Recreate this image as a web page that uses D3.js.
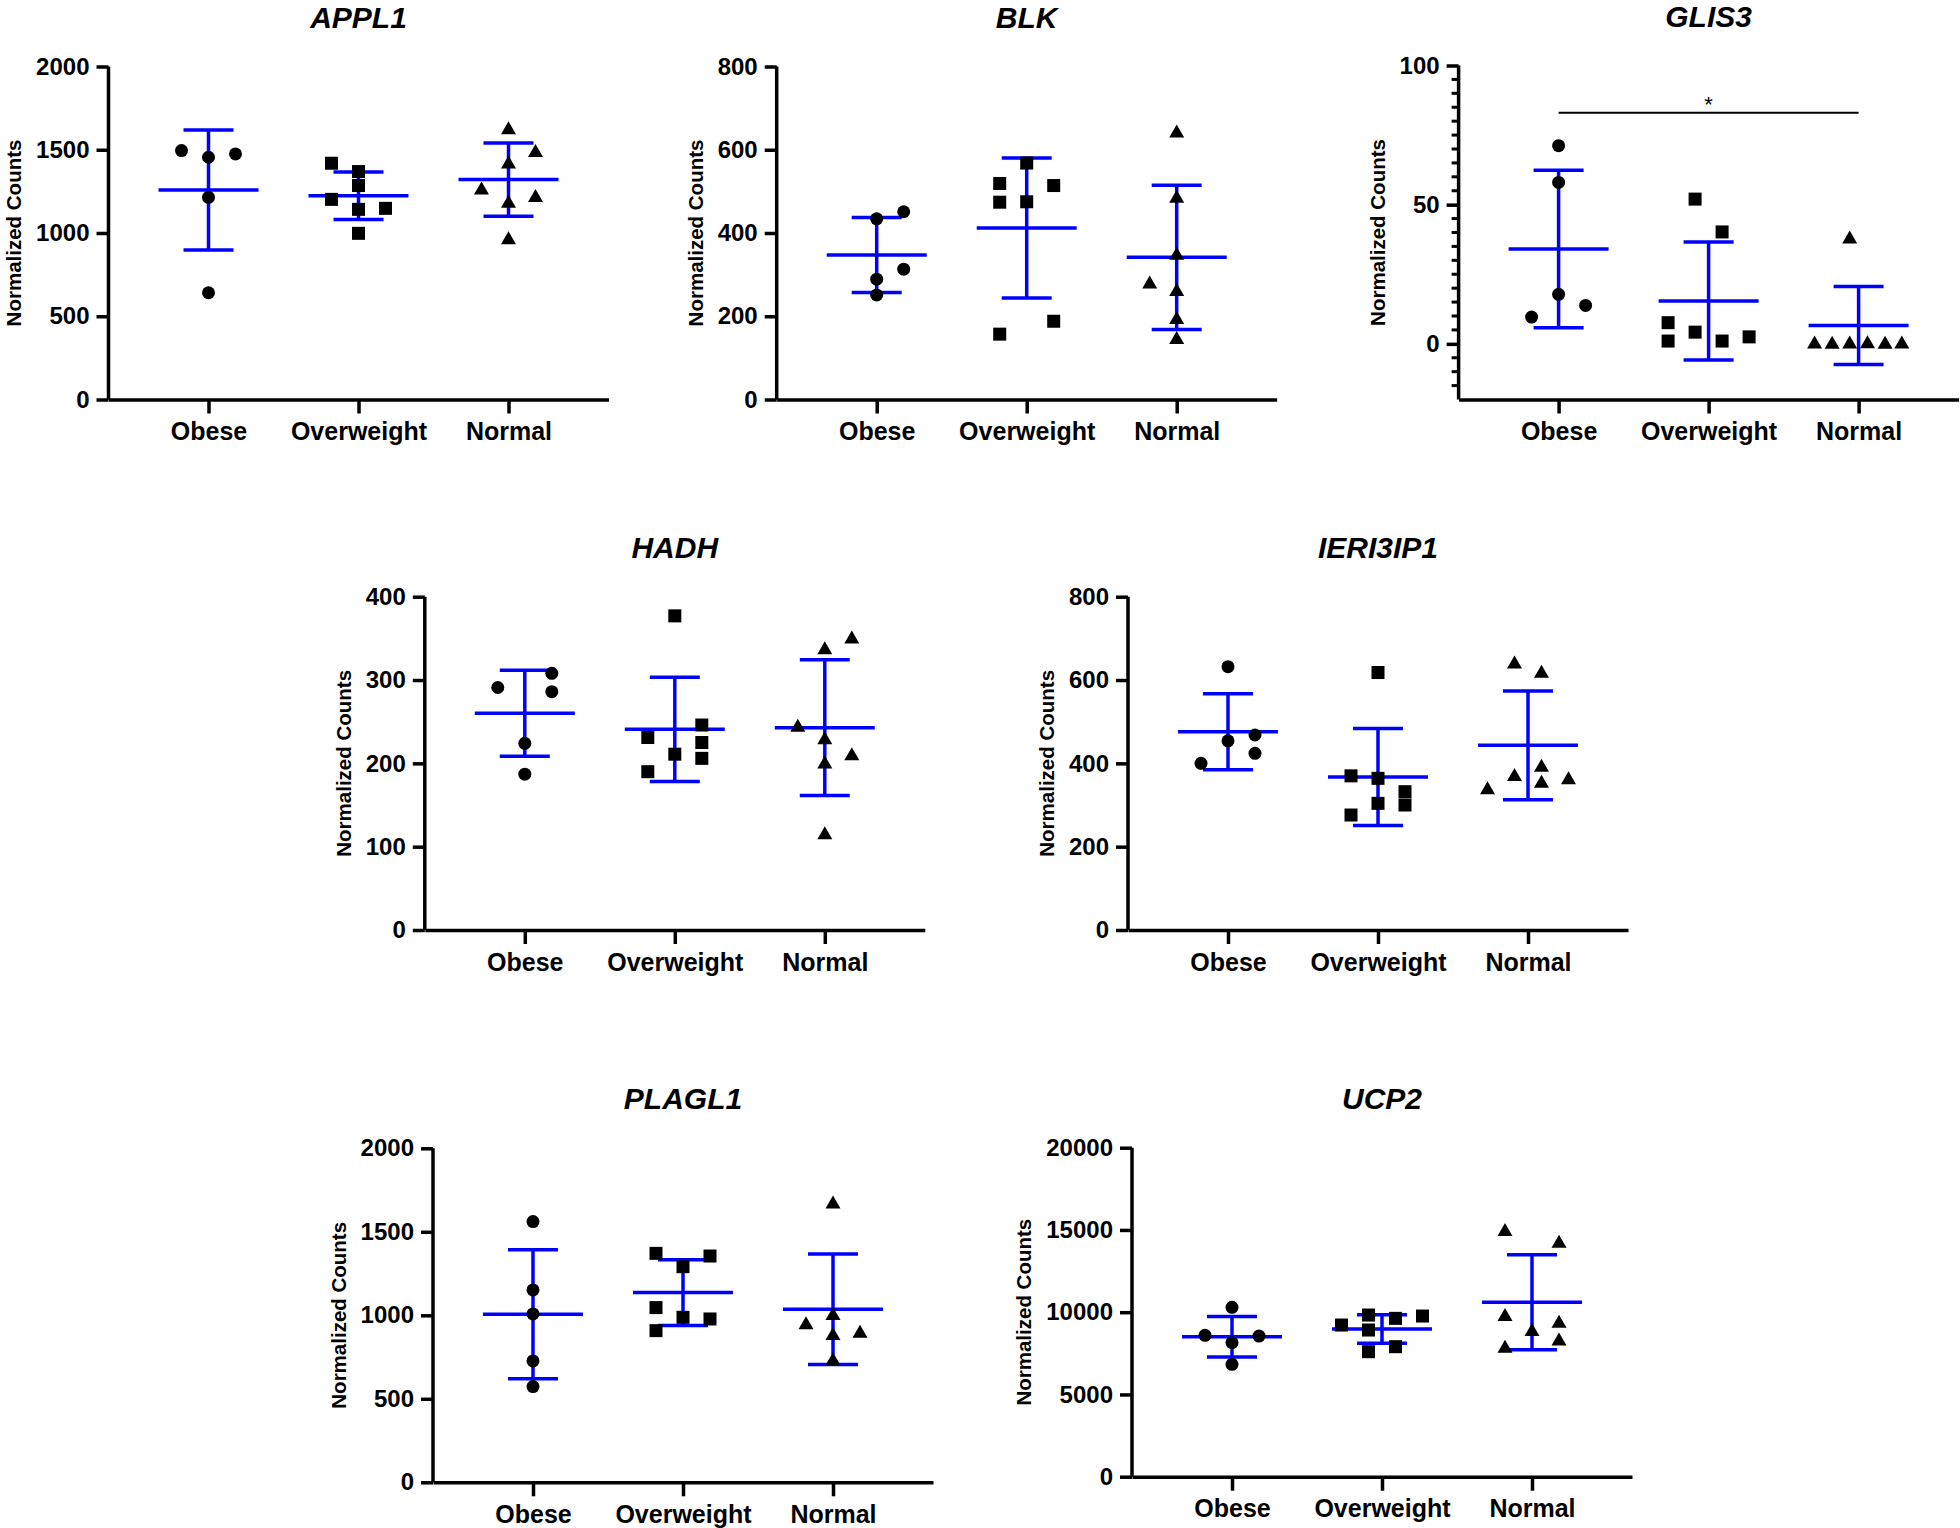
<!DOCTYPE html>
<html>
<head>
<meta charset="utf-8">
<script src="https://cdn.jsdelivr.net/npm/d3@7"></script>
<style>
  body { margin: 0; background: #fff; }
  svg text { font-family: Arial, "Liberation Sans", sans-serif; }
</style>
</head>
<body>
<svg id="fig"></svg>
<script>
var groups = ["Obese", "Overweight", "Normal"];

// APPL1
var appl1Values = [[1495, 1455, 1475, 1214, 641], [1419, 1369, 1285, 1202, 1142, 1148, 998], [1629, 1493, 1423, 1268, 1222, 1188, 968]];
var appl1Lanes = [[-1, 0, 1, 0, 0], [-1, 0, 0, -1, 0, 1, 0], [0, 1, 0, -1, 1, 0, 0]];
var appl1Mean = [1258, 1224, 1321];
var appl1Sd = [360, 143, 220];
var appl1Ticks = [0, 500, 1000, 1500, 2000];

// BLK
var blkValues = [[434, 451, 313, 289, 251], [568, 519, 514, 474, 475, 188, 157], [644, 487, 350, 281, 263, 196, 148]];
var blkLanes = [[0, 1, 1, 0, 0], [0, -1, 1, -1, 0, 1, -1], [0, 0, 0, -1, 0, 0, 0]];
var blkMean = [347, 412, 341.5];
var blkSd = [90, 168, 173.5];
var blkTicks = [0, 200, 400, 600, 800];

// GLIS3
var glis3Values = [[71.2, 58.0, 17.8, 13.8, 9.6], [52.0, 40.2, 7.6, 4.2, 2.5, 1.0, 1.0], [38.2, 0.5, 0.4, 0.5, 0.6, 0.4, 0.5]];
var glis3Lanes = [[0, 0, 0, 1, -1], [-0.5, 0.5, -1.5, -0.5, 1.5, -1.5, 0.5], [-0.33, -1.63, -0.98, -0.33, 0.33, 0.98, 1.6]];
var glis3Mean = [34.1, 15.4, 6.6];
var glis3Sd = [28.3, 21.2, 14];
var glis3Ticks = [0, 50, 100];
var glis3Minor = [-15, -10, -5, 5, 10, 15, 20, 25, 30, 35, 40, 45, 55, 60, 65, 70, 75, 80, 85, 90, 95];
var glis3Sig = {from: "Obese", to: "Normal", value: 83, label: "*"};

// HADH
var hadhValues = [[308, 291, 286, 224, 187], [377, 246, 231, 225, 211, 206, 190], [351, 338, 245, 230, 211, 201, 116]];
var hadhLanes = [[1, -1, 1, 0, 0], [0, 1, -1, 1, 0, 1, -1], [1, 0, -1, 0, 1, 0, 0]];
var hadhMean = [260, 240.8, 242.8];
var hadhSd = [51.6, 62.6, 81.4];
var hadhTicks = [0, 100, 200, 300, 400];

// IERI3IP1
var ieri3ip1Values = [[632, 468, 454, 424, 400], [618, 370, 364, 332, 304, 300, 276], [642, 620, 394, 372, 356, 364, 340]];
var ieri3ip1Lanes = [[0, 1, 0, 1, -1], [0, -1, 0, 1, 0, 1, -1], [-0.5, 0.5, 0.5, -0.5, 0.5, 1.5, -1.5]];
var ieri3ip1Mean = [476, 367.2, 443.2];
var ieri3ip1Sd = [91.2, 116.4, 130.4];
var ieri3ip1Ticks = [0, 200, 400, 600, 800];

// PLAGL1
var plagl1Values = [[1561, 1152, 1008, 727, 573], [1371, 1355, 1291, 1046, 988, 978, 908], [1675, 1008, 952, 902, 888, 737]];
var plagl1Lanes = [[0, 0, 0, 0, 0], [-1, 1, 0, -1, 0, 1, -1], [0, 0, -1, 1, 0, 0]];
var plagl1Mean = [1006, 1136, 1036];
var plagl1Sd = [386, 196.5, 331];
var plagl1Ticks = [0, 500, 1000, 1500, 2000];

// UCP2
var ucp2Values = [[10294, 8592, 8551, 8146, 6829], [9828, 9625, 9767, 9220, 8916, 7903, 7599], [14995, 14285, 9828, 9422, 8916, 8348, 7903]];
var ucp2Lanes = [[0, -1, 1, 0, 0], [-0.5, 0.5, 1.5, -1.5, -0.5, 0.5, -0.5], [-1, 1, -1, 1, 0, 1, -1]];
var ucp2Mean = [8510, 8977, 10598];
var ucp2Sd = [1236, 862, 2888];
var ucp2Ticks = [0, 5000, 10000, 15000, 20000];

var BLUE = "#0000ff";
var width = 1960;
var height = 1528;
var plotWidth = 500;

var panels = [
    {gene: "APPL1", values: appl1Values, lanes: appl1Lanes, mean: appl1Mean, sd: appl1Sd, ticks: appl1Ticks, min: 0,
     x: 108.5, top: 66.5, bottom: 399.5},
    {gene: "BLK", values: blkValues, lanes: blkLanes, mean: blkMean, sd: blkSd, ticks: blkTicks, min: 0,
     x: 776.7, top: 66.5, bottom: 399.5},
    {gene: "GLIS3", values: glis3Values, lanes: glis3Lanes, mean: glis3Mean, sd: glis3Sd, ticks: glis3Ticks, min: -20,
     minor: glis3Minor, sig: glis3Sig, x: 1458.6, top: 65.5, bottom: 399.5},
    {gene: "HADH", values: hadhValues, lanes: hadhLanes, mean: hadhMean, sd: hadhSd, ticks: hadhTicks, min: 0,
     x: 424.8, top: 596.7, bottom: 930},
    {gene: "IERI3IP1", values: ieri3ip1Values, lanes: ieri3ip1Lanes, mean: ieri3ip1Mean, sd: ieri3ip1Sd, ticks: ieri3ip1Ticks, min: 0,
     x: 1128, top: 596.7, bottom: 930},
    {gene: "PLAGL1", values: plagl1Values, lanes: plagl1Lanes, mean: plagl1Mean, sd: plagl1Sd, ticks: plagl1Ticks, min: 0,
     x: 433, top: 1148.3, bottom: 1482.3},
    {gene: "UCP2", values: ucp2Values, lanes: ucp2Lanes, mean: ucp2Mean, sd: ucp2Sd, ticks: ucp2Ticks, min: 0,
     x: 1132, top: 1147.7, bottom: 1476.7}
];

// marker shape per group: circle, square, triangle
var drawMarker = function(g, gi, cx, cy) {
    if (gi == 0) {
	g.append("circle").attr("cx", cx).attr("cy", cy).attr("r", 6.5).attr("fill", "#000");
    } else if (gi == 1) {
	g.append("rect").attr("x", cx - 6.5).attr("y", cy - 6.5)
	    .attr("width", 13).attr("height", 13).attr("fill", "#000");
    } else {
	g.append("path")
	    .attr("d", "M" + cx + "," + (cy - 7) + "L" + (cx + 7.5) + "," + (cy + 6) + "L" + (cx - 7.5) + "," + (cy + 6) + "Z")
	    .attr("fill", "#000");
    }
};

var svg = d3.select("svg#fig")
    .attr("width", width)
    .attr("height", height);

svg.append("rect").attr("width", width).attr("height", height).attr("fill", "#fff");

var lane = d3.scaleLinear().domain([-1, 1]).range([-27, 27]);

panels.forEach(function(p) {
    var g = svg.append("g");
    var x = d3.scalePoint().domain(groups).range([p.x, p.x + plotWidth]).padding(2 / 3);
    var y = d3.scaleLinear().domain([p.min, d3.max(p.ticks)]).range([p.bottom, p.top]);

    // title (kept a little lower so the glyph box stays inside the page)
    g.append("text")
	.text(p.gene)
	.attr("x", p.x + plotWidth / 2)
	.attr("y", p.top - 39)
	.attr("text-anchor", "middle")
	.attr("font-size", 30)
	.attr("font-weight", "bold")
	.attr("font-style", "italic")
	.attr("fill", "#000");

    // y axis
    var yAxis = g.append("g")
	.attr("transform", "translate(" + p.x + ",0)")
	.call(d3.axisLeft(y).tickValues(p.ticks).tickSize(12).tickSizeOuter(0).tickPadding(7).tickFormat(d3.format("d")));
    yAxis.selectAll("path, line").attr("stroke", "#000").attr("stroke-width", 3.5);
    yAxis.selectAll("text").attr("font-size", 24).attr("font-weight", "bold").attr("fill", "#000")
	.style("font-family", "Arial, 'Liberation Sans', sans-serif");
    yAxis.select(".domain").attr("d", "M0," + p.bottom + "V" + p.top);

    if (p.minor) {
	yAxis.selectAll(".minor")
	    .data(p.minor)
	    .enter().append("line")
	    .attr("class", "minor")
	    .attr("x1", -7).attr("x2", 0)
	    .attr("y1", function(d) { return y(d); })
	    .attr("y2", function(d) { return y(d); })
	    .attr("stroke", "#000").attr("stroke-width", 3);
    }

    // y label placed left of the widest tick label
    var lblBox = yAxis.selectAll(".tick text").nodes().reduce(function(m, n) {
	var b = n.getBBox();
	return Math.min(m, b.x);
    }, 0);
    var lx = p.x + lblBox - 15;
    var ly = (p.top + p.bottom) / 2;
    g.append("text")
	.text("Normalized Counts")
	.attr("transform", "translate(" + lx + "," + ly + ") rotate(-90)")
	.attr("text-anchor", "middle")
	.attr("font-size", 20.5)
	.attr("font-weight", "bold")
	.attr("fill", "#000");

    // x axis
    var xAxis = g.append("g")
	.attr("transform", "translate(0," + p.bottom + ")")
	.call(d3.axisBottom(x).tickSize(14).tickSizeOuter(0).tickPadding(9));
    xAxis.selectAll("path, line").attr("stroke", "#000").attr("stroke-width", 3.5);
    xAxis.selectAll("text").attr("font-size", 25).attr("font-weight", "bold").attr("fill", "#000")
	.style("font-family", "Arial, 'Liberation Sans', sans-serif");

    // mean +/- SD
    groups.forEach(function(grp, gi) {
	var cx = x(grp);
	var m = p.mean[gi];
	var s = p.sd[gi];
	var bars = g.append("g").attr("stroke", BLUE).attr("stroke-width", 3.5);
	bars.append("line").attr("x1", cx).attr("x2", cx).attr("y1", y(m + s)).attr("y2", y(m - s));
	bars.append("line").attr("x1", cx - 50).attr("x2", cx + 50).attr("y1", y(m)).attr("y2", y(m));
	bars.append("line").attr("x1", cx - 25).attr("x2", cx + 25).attr("y1", y(m + s)).attr("y2", y(m + s));
	bars.append("line").attr("x1", cx - 25).attr("x2", cx + 25).attr("y1", y(m - s)).attr("y2", y(m - s));
    });

    // points
    groups.forEach(function(grp, gi) {
	var cx = x(grp);
	p.values[gi].forEach(function(v, i) {
	    drawMarker(g, gi, cx + lane(p.lanes[gi][i]), y(v));
	});
    });

    // significance bracket
    if (p.sig) {
	var sy = y(p.sig.value);
	g.append("line")
	    .attr("x1", x(p.sig.from)).attr("x2", x(p.sig.to))
	    .attr("y1", sy).attr("y2", sy)
	    .attr("stroke", "#000").attr("stroke-width", 2);
	g.append("text")
	    .text(p.sig.label)
	    .attr("x", (x(p.sig.from) + x(p.sig.to)) / 2)
	    .attr("y", sy - 1)
	    .attr("text-anchor", "middle")
	    .attr("font-size", 22)
	    .attr("fill", "#000");
    }
});
</script>
</body>
</html>
